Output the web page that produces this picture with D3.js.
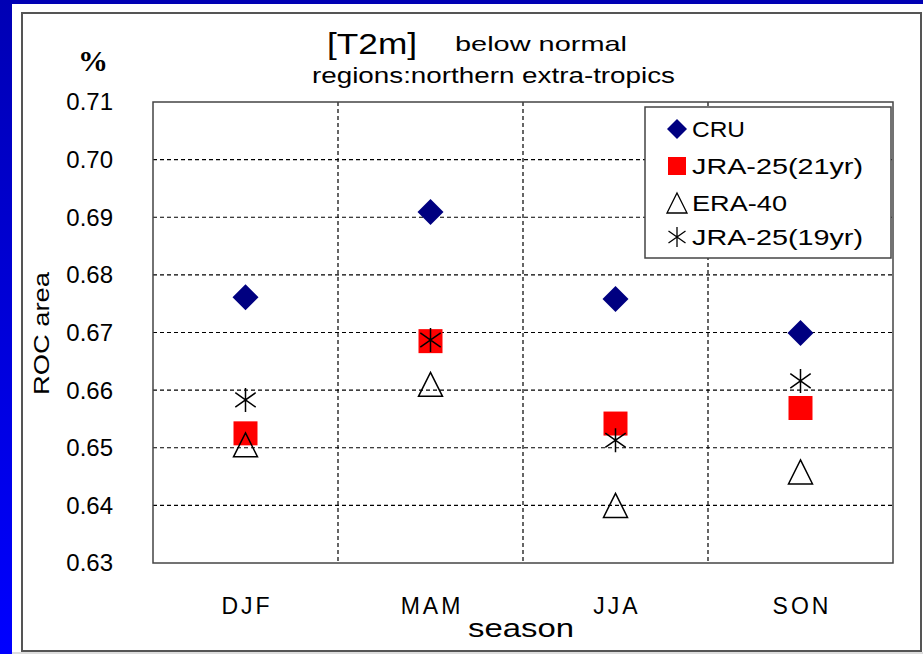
<!DOCTYPE html>
<html lang="en">
<meta charset="utf-8">
<style>
body { margin: 0; background: #fff; }
text { font-family: "Liberation Sans", Arial, sans-serif; fill: #000; }
</style>
<body>
<script src="https://d3js.org/d3.v7.min.js"></script>
<div id="chart"></div>
<script>
// chart data
var seasons = ["DJF", "MAM", "JJA", "SON"];
var cru     = [0.6761, 0.6909, 0.6758, 0.6699];
var jra21   = [0.6525, 0.6685, 0.6542, 0.6569];
var era40   = [0.6505, 0.6610, 0.6400, 0.6458];
var jra19   = [0.6583, 0.6687, 0.6513, 0.6616];
var yTicks  = [0.63, 0.64, 0.65, 0.66, 0.67, 0.68, 0.69, 0.70, 0.71];

var width = 923, height = 654;
var plot = {left: 153, right: 893, top: 102, bottom: 563};

var svg = d3.select("#chart").append("svg")
    .attr("width", width)
    .attr("height", height);

var defs = svg.append("defs");
var grad = defs.append("linearGradient").attr("id", "blue")
    .attr("x1", 0).attr("y1", 0).attr("x2", 0).attr("y2", 1);
grad.append("stop").attr("offset", "0%").attr("stop-color", "#0000b4");
grad.append("stop").attr("offset", "100%").attr("stop-color", "#0000ff");

// blue frame and white panel
svg.append("rect").attr("x", 0).attr("y", 0).attr("width", width).attr("height", 4).attr("fill", "#0000b4");
svg.append("rect").attr("x", 0).attr("y", 0).attr("width", 12).attr("height", height).attr("fill", "url(#blue)");
svg.append("rect").attr("x", 12).attr("y", 652).attr("width", width - 12).attr("height", 2).attr("fill", "#ddd");
svg.append("rect")
    .attr("x", 22).attr("y", 13).attr("width", 899).attr("height", 638)
    .attr("fill", "#fff").attr("stroke", "#555").attr("stroke-width", 2);

var x = d3.scaleBand().domain(seasons).range([plot.left, plot.right]);
var y = d3.scaleLinear().domain([0.63, 0.71]).range([plot.bottom, plot.top]);

// grid
var g = svg.append("g");
g.selectAll(".hgrid")
    .data(yTicks.slice(1, -1))
  .enter().append("line")
    .attr("x1", plot.left).attr("x2", plot.right)
    .attr("y1", function(d) { return y(d); })
    .attr("y2", function(d) { return y(d); })
    .attr("stroke", "#000").attr("stroke-width", 1.2)
    .attr("stroke-dasharray", "4,3");

g.selectAll(".vgrid")
    .data(seasons.slice(1))
  .enter().append("line")
    .attr("x1", function(d) { return x(d); })
    .attr("x2", function(d) { return x(d); })
    .attr("y1", plot.top).attr("y2", plot.bottom)
    .attr("stroke", "#000").attr("stroke-width", 1.2)
    .attr("stroke-dasharray", "4,3");

svg.append("rect")
    .attr("x", plot.left).attr("y", plot.top)
    .attr("width", plot.right - plot.left).attr("height", plot.bottom - plot.top)
    .attr("fill", "none").attr("stroke", "#444").attr("stroke-width", 1.5);

// y tick labels
svg.selectAll(".ylab")
    .data(yTicks)
  .enter().append("text")
    .attr("x", 113)
    .attr("y", function(d) { return y(d); })
    .attr("dy", "0.35em")
    .attr("text-anchor", "end")
    .style("font-size", "24px")
    .text(function(d) { return d.toFixed(2); });

// x labels
svg.selectAll(".xlab")
    .data(seasons)
  .enter().append("text")
    .attr("x", function(d) { return x(d) + x.bandwidth() / 2 + 1.5; })
    .attr("y", 614)
    .attr("text-anchor", "middle")
    .style("font-size", "23px")
    .style("letter-spacing", "3px")
    .text(function(d) { return d; });

svg.append("text")
    .attr("x", 468).attr("y", 637)
    .attr("textLength", 106).attr("lengthAdjust", "spacingAndGlyphs")
    .style("font-size", "26px")
    .text("season");

svg.append("text")
    .attr("transform", "translate(49,395) rotate(-90)")
    .attr("textLength", 123).attr("lengthAdjust", "spacingAndGlyphs")
    .style("font-size", "22px")
    .text("ROC area");

// titles
svg.append("text")
    .attr("x", 93).attr("y", 71)
    .attr("text-anchor", "middle")
    .style("font-family", "'Liberation Serif', serif")
    .style("font-weight", "bold")
    .style("font-size", "30px")
    .text("%");

svg.append("text")
    .attr("x", 327).attr("y", 54)
    .attr("textLength", 90).attr("lengthAdjust", "spacingAndGlyphs")
    .style("font-size", "30px")
    .text("[T2m]");

svg.append("text")
    .attr("x", 455).attr("y", 51)
    .attr("textLength", 172).attr("lengthAdjust", "spacingAndGlyphs")
    .style("font-size", "21px")
    .text("below normal");

svg.append("text")
    .attr("x", 312).attr("y", 83)
    .attr("textLength", 363).attr("lengthAdjust", "spacingAndGlyphs")
    .style("font-size", "22px")
    .text("regions:northern extra-tropics");

// marker shapes
function diamond(s) {
  return d3.symbol().type(d3.symbolSquare).size(s * s / 2)();
}
function triangle(s) {
  var h = s;
  return "M0," + (-h / 2) + "L" + (s / 2) + "," + (h / 2) + "L" + (-s / 2) + "," + (h / 2) + "Z";
}
function asterisk(s) {
  var r = s / 2;
  return "M0," + (-r) + "L0," + r +
         "M" + (-r * 0.85) + "," + (-r * 0.6) + "L" + (r * 0.85) + "," + (r * 0.6) +
         "M" + (-r * 0.85) + "," + (r * 0.6) + "L" + (r * 0.85) + "," + (-r * 0.6);
}

var series = [
  {name: "CRU", values: cru, path: function() { return diamond(26); }, rot: 45, textLen: 53,
   fill: "#000080", stroke: "none", legendPath: function() { return diamond(20); }},
  {name: "JRA-25(21yr)", values: jra21, path: function() { return d3.symbol().type(d3.symbolSquare).size(576)(); }, rot: 0, textLen: 171,
   fill: "#ff0000", stroke: "none", legendPath: function() { return d3.symbol().type(d3.symbolSquare).size(324)(); }},
  {name: "ERA-40", values: era40, path: function() { return triangle(24); }, rot: 0, textLen: 95,
   fill: "none", stroke: "#000", legendPath: function() { return triangle(20); }},
  {name: "JRA-25(19yr)", values: jra19, path: function() { return asterisk(24); }, rot: 0, textLen: 171,
   fill: "none", stroke: "#000", legendPath: function() { return asterisk(20); }}
];

var cx = function(i) { return x(seasons[i]) + x.bandwidth() / 2; };

series.forEach(function(s) {
  svg.append("g").selectAll("path")
      .data(s.values)
    .enter().append("path")
      .attr("d", s.path())
      .attr("transform", function(d, i) {
        return "translate(" + cx(i) + "," + y(d) + ") rotate(" + s.rot + ")";
      })
      .attr("fill", s.fill)
      .attr("stroke", s.stroke)
      .attr("stroke-width", 1.5);
});

// legend
var legend = svg.append("g");
legend.append("rect")
    .attr("x", 645).attr("y", 107).attr("width", 246).attr("height", 151)
    .attr("fill", "#fff").attr("stroke", "#444").attr("stroke-width", 1.5);

var ly = [129, 166, 203, 237];
series.forEach(function(s, i) {
  legend.append("path")
      .attr("d", s.legendPath())
      .attr("transform", "translate(677," + ly[i] + ") rotate(" + s.rot + ")")
      .attr("fill", s.fill)
      .attr("stroke", s.stroke)
      .attr("stroke-width", 1.3);
  legend.append("text")
      .attr("x", 692).attr("y", ly[i])
      .attr("dy", "0.36em")
      .attr("textLength", s.textLen).attr("lengthAdjust", "spacingAndGlyphs")
      .style("font-size", "22px")
      .text(s.name);
});
</script>
</body>
</html>
